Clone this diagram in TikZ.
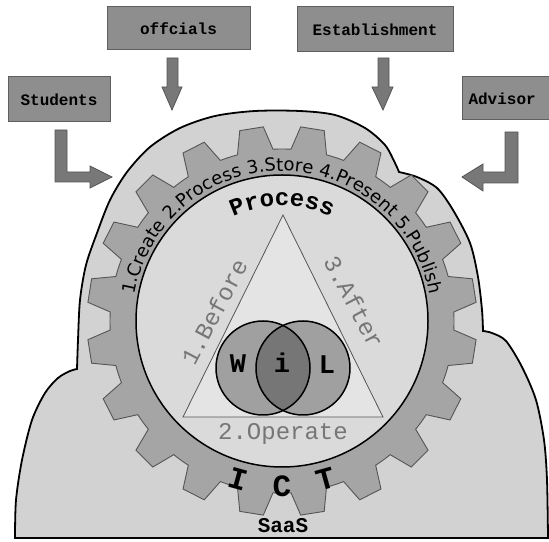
\documentclass[tikz,border=0pt]{standalone}
\usepackage{fontspec}
\setmainfont{DejaVu Sans}
\newfontfamily\monofont{Liberation Mono}
\newfontfamily\ringfont{DejaVu Sans}
\usetikzlibrary{decorations.text}
\definecolor{cloudfill}{RGB}{210,210,210}
\definecolor{gearfill}{RGB}{165,165,165}
\definecolor{gearline}{RGB}{85,85,85}
\definecolor{discfill}{RGB}{218,218,218}
\definecolor{trifill}{RGB}{228,228,228}
\definecolor{vennfill}{RGB}{160,160,160}
\definecolor{venndark}{RGB}{118,118,118}
\definecolor{boxfill}{RGB}{142,142,142}
\definecolor{boxline}{RGB}{95,95,95}
\definecolor{arrowfill}{RGB}{120,120,120}
\definecolor{textgray}{RGB}{118,118,118}
\tikzset{
  box/.style={draw=boxline, line width=1pt, fill=boxfill, inner sep=0pt,
    font=\monofont\bfseries\fontsize{16}{16}\selectfont},
  blockarrow/.style={draw=gearline, line width=0.8pt, fill=arrowfill},
  gearstyle/.style={draw=gearline, line width=0.9pt, fill=gearfill},
  graylabel/.style={text=textgray, font=\monofont\fontsize{24}{24}\selectfont},
  venntext/.style={font=\monofont\bfseries\fontsize{27}{27}\selectfont},
  icttext/.style={font=\monofont\bfseries\fontsize{31}{31}\selectfont}
}
\begin{document}
\begin{tikzpicture}[x=1pt,y=1pt]
\useasboundingbox (0,0) rectangle (549,541);
% cloud
\draw[line width=1.8pt, fill=cloudfill]
  plot[smooth] coordinates {(15,3) (16,41) (22,81) (32,121) (45,148) (58,163) (70,170) (77,172)}
  -- plot[smooth] coordinates {(77,172) (78,201) (80,241) (86,276) (97,308) (110,341) (127,369) (150,394) (180,413) (215,425) (255,430) (300,430) (335,426) (365,413) (385,396) (395,378) (399,369)}
  -- plot[smooth] coordinates {(399,369) (417,364) (437,353) (453,331) (470,298) (478,264) (482,231) (483,210)}
  -- plot[smooth] coordinates {(483,210) (492,208) (506,200) (522,174) (536,141) (544,101) (547,61) (548,3)}
  -- cycle;
% gear
\begin{scope}[shift={(282,220)}]
\draw[gearstyle] (3:172) \foreach \a in {9,27,...,351}{
   -- ({\a-6}:172) -- ({\a-3.5}:195) -- ({\a+3.5}:195) -- ({\a+6}:172)
   arc[start angle={\a+6}, end angle={\a+12}, radius=172] } -- cycle;
\draw[line width=1.5pt, fill=discfill] (0,0) circle[radius=146];
\path[decorate, decoration={text along path, text align=center,
   text={|\ringfont\fontsize{18}{18}\selectfont|1.Create 2.Process 3.Store 4.Present 5.Publish}}]
   (178:150) arc[start angle=178, end angle=2, radius=150];
\path[decorate, decoration={text along path, text align=center,
   text={|\monofont\bfseries\fontsize{24}{24}\selectfont|Process}}]
   (150:115) arc[start angle=150, end angle=30, radius=115];
\node[icttext, rotate=-15.5] (I) at (254.5:164) {I};
\node[icttext] (C) at (270:165) {C};
\node[icttext, rotate=15.5] (T) at (285.5:164) {T};
\end{scope}
% triangle
\draw[draw=gearline, line width=0.8pt, fill=trifill] (283,326) -- (183,124) -- (383,124) -- cycle;
% venn
\coordinate (vl) at (263,173);
\coordinate (vr) at (303,173);
\fill[vennfill] (vl) circle[radius=47];
\fill[vennfill] (vr) circle[radius=47];
\begin{scope}
\clip (vl) circle[radius=47];
\fill[venndark] (vr) circle[radius=47];
\end{scope}
\draw[line width=1.5pt] (vl) circle[radius=47];
\draw[line width=1.5pt] (vr) circle[radius=47];
\node[venntext] (W) at (238,177) {W};
\node[venntext] (i) at (282,178) {i};
\node[venntext] (L) at (327,176) {L};
% gray labels
\node[graylabel, rotate=62] (before) at (214,229) {1.Before};
\node[graylabel, rotate=-62] (after) at (354,239) {3.After};
\node[graylabel] (operate) at (283,107) {2.Operate};
\node[font=\monofont\bfseries\fontsize{21}{21}\selectfont] (saas) at (283,15) {SaaS};
% boxes
\node[box, minimum width=102, minimum height=45] (students) at (59,441.5) {Students};
\node[box, minimum width=143, minimum height=43] (offcials) at (178.5,512.5) {offcials};
\node[box, minimum width=156, minimum height=45] (establishment) at (375,511.5) {Establishment};
\node[box, anchor=west, minimum height=43, text width=81, inner xsep=6pt, align=left] (advisor) at (462,442.5) {Advisor};
% arrows
\draw[blockarrow] (167,483) -- (167,454) -- (162,454) -- (172,431) -- (182,454) -- (178,454) -- (178,483) -- cycle;
\draw[blockarrow] (378,483) -- (378,454) -- (372,454) -- (383,431) -- (393,454) -- (389,454) -- (389,483) -- cycle;
\draw[blockarrow] (55,411) -- (55,359) -- (90,359) -- (90,353) -- (112,364) -- (90,375) -- (90,369) -- (67,369) -- (67,411) -- cycle;
\draw[blockarrow] (518,409) -- (518,358) -- (483,358) -- (483,350) -- (462,364) -- (483,377) -- (483,369) -- (505,369) -- (505,409) -- cycle;
\end{tikzpicture}
\end{document}
